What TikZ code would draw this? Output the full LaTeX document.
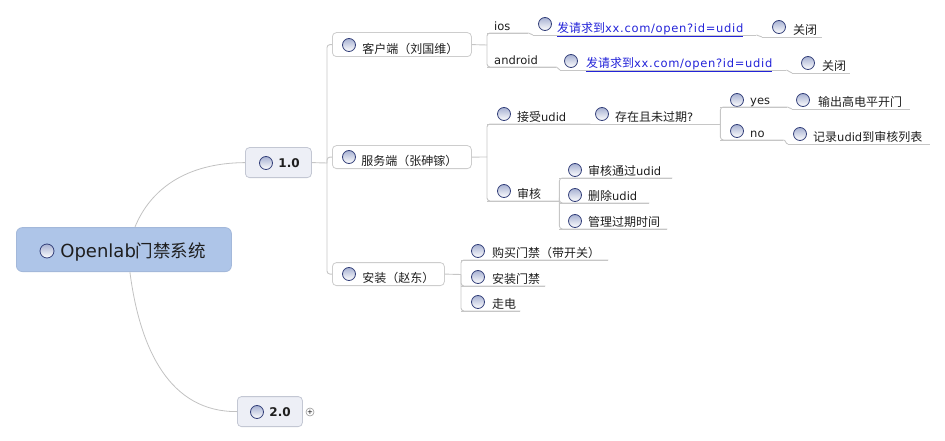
\documentclass[tikz,border=0pt]{standalone}
\usepackage{fontspec}
\setmainfont{DejaVu Sans}
\newfontfamily\zhfont{Noto Sans CJK SC}
\usetikzlibrary{calc}
\newcommand\zh[1]{{\zhfont\fontsize{12}{14}\selectfont #1}}
\newcommand\zhbig[1]{{\zhfont\fontsize{17.5}{20}\selectfont #1}}
\newcommand\linktext[1]{{\addfontfeature{LetterSpace=6}#1}}
\definecolor{lineC}{HTML}{C6C6C6}
\definecolor{curveC}{HTML}{C2C2C2}
\definecolor{rootFill}{HTML}{AEC5E8}
\definecolor{rootDraw}{HTML}{A3B8DA}
\definecolor{verFill}{HTML}{EDEFF6}
\definecolor{verDraw}{HTML}{C3C7D3}
\definecolor{subDraw}{HTML}{CDCDCD}
\definecolor{ballDraw}{HTML}{34407A}
\definecolor{ballTop}{HTML}{A7B1D2}
\definecolor{txt}{HTML}{1E1E1E}
\definecolor{linkC}{HTML}{2323D8}
\begin{document}
\begin{tikzpicture}[x=1pt,y=-1pt,
 ln/.style={draw=lineC, line width=0.9pt},
 rc/.style={ln, rounded corners=3pt},
 curveln/.style={draw=curveC, line width=0.8pt},
 ball/.style={circle, draw=ballDraw, line width=0.8pt, top color=ballTop, bottom color=white, minimum size=13pt, inner sep=0pt},
 topic/.style={anchor=south west, inner xsep=0pt, inner ysep=2.5pt, text depth=0pt, text height=9pt, align=left, font=\fontsize{11.5}{13}\selectfont, text=txt},
 subbox/.style={draw=subDraw, fill=white, line width=0.8pt, rounded corners=4pt, anchor=south west, inner xsep=0pt, inner ysep=0pt, align=left, font=\fontsize{11.5}{13}\selectfont, text=txt},
 verbox/.style={draw=verDraw, fill=verFill, line width=0.8pt, rounded corners=4pt, anchor=south west, inner xsep=0pt, inner ysep=0pt, align=left, font=\bfseries\fontsize{12}{14}\selectfont, text=txt},
 rootbox/.style={draw=rootDraw, fill=rootFill, line width=0.8pt, rounded corners=6pt, anchor=south west, inner xsep=0pt, inner ysep=0pt, align=left, font=\fontsize{18}{20}\selectfont, text=txt},
 plusc/.style={circle, draw=gray!80, line width=0.6pt, minimum size=8pt, inner sep=0pt, font=\fontsize{7}{7}\selectfont},
]
\useasboundingbox (0,0) rectangle (945,441);

% ---- boxes ----
\node[rootbox, text width=215pt, text height=30pt, text depth=14pt] (root) at (16,272) {\hspace*{44pt}Openlab\zhbig{门禁系统}};
\node[ball, minimum size=14pt] (root-b) at (47,251) {};

\node[verbox, text width=66pt, text height=20pt, text depth=10pt] (v1) at (245,178) {\hspace*{33pt}1.0};
\node[ball] (v1-b) at (266,163) {};
\node[verbox, text width=65pt, text height=20pt, text depth=10pt] (v2) at (237,427) {\hspace*{32pt}2.0};
\node[ball] (v2-b) at (257,412) {};
\node[plusc] (v2p) at (310,412) {+};

\node[subbox, text width=139pt, text height=21pt, text depth=3pt] (kehu) at (332,57) {\hspace*{30pt}\zh{客户端（刘国维）}};
\node[ball] (kehu-b) at (349,45) {};
\node[subbox, text width=139pt, text height=20pt, text depth=3pt] (fuwu) at (332,169) {\hspace*{29pt}\zh{服务端（张砷镓）}};
\node[ball] (fuwu-b) at (349,157) {};
\node[subbox, text width=112pt, text height=20pt, text depth=3pt] (anz) at (332,286) {\hspace*{30pt}\zh{安装（赵东）}};
\node[ball] (anz-b) at (349,274) {};

% ---- underline topics ----
\node[topic, text width=41pt] (ios) at (487,33) {\hspace*{7pt}ios};
\node[topic, text width=223pt] (link1) at (533,35) {\hspace*{24pt}\textcolor{linkC}{\underline{\zh{发请求到}\linktext{xx.com/open?id=udid}}}};
\node[ball] (link1-b) at (545,24) {};
\node[topic, text width=60pt] (close1) at (762,37) {\hspace*{31pt}\zh{关闭}};
\node[ball] (close1-b) at (779,27) {};

\node[topic, text width=69pt] (android) at (487,67) {\hspace*{7pt}android};
\node[topic, text width=226pt] (link2) at (560,70) {\hspace*{26pt}\textcolor{linkC}{\underline{\zh{发请求到}\linktext{xx.com/open?id=udid}}}};
\node[ball] (link2-b) at (571,61) {};
\node[topic, text width=58pt] (close2) at (792,73) {\hspace*{30pt}\zh{关闭}};
\node[ball] (close2-b) at (808,63) {};

\node[topic, text width=103pt] (accept) at (487,124) {\hspace*{30pt}\zh{接受}udid};
\node[ball] (accept-b) at (504,114) {};
\node[topic, text width=128pt] (exists) at (592,124) {\hspace*{23pt}\zh{存在且未过期}?};
\node[ball] (exists-b) at (602,114) {};
\node[topic, text width=67pt] (yes) at (720,107) {\hspace*{30pt}yes};
\node[ball] (yes-b) at (737,100) {};
\node[topic, text width=118pt] (out) at (792,109) {\hspace*{26pt}\zh{输出高电平开门}};
\node[ball] (out-b) at (803,100) {};
\node[topic, text width=63pt] (no) at (720,140) {\hspace*{30pt}no};
\node[ball] (no-b) at (737,131) {};
\node[topic, text width=142pt] (record) at (788,144) {\hspace*{25pt}\zh{记录}udid\zh{到审核列表}};
\node[ball] (record-b) at (800,134) {};

\node[topic, text width=72pt] (audit) at (487,201) {\hspace*{30pt}\zh{审核}};
\node[ball] (audit-b) at (504,191) {};
\node[topic, text width=113pt] (pass) at (559,178) {\hspace*{29pt}\zh{审核通过}udid};
\node[ball] (pass-b) at (575,170) {};
\node[topic, text width=90pt] (del) at (559,203) {\hspace*{29pt}\zh{删除}udid};
\node[ball] (del-b) at (575,195) {};
\node[topic, text width=108pt] (manage) at (559,229) {\hspace*{29pt}\zh{管理过期时间}};
\node[ball] (manage-b) at (575,221) {};

\node[topic, text width=147pt] (buy) at (461,260) {\hspace*{31pt}\zh{购买门禁（带开关）}};
\node[ball] (buy-b) at (478,251) {};
\node[topic, text width=84pt] (install) at (461,286) {\hspace*{31pt}\zh{安装门禁}};
\node[ball] (install-b) at (478,277) {};
\node[topic, text width=59pt] (wire) at (461,311) {\hspace*{31pt}\zh{走电}};
\node[ball] (wire-b) at (478,302) {};

% underlines
\foreach \n in {ios,link1,close1,android,link2,close2,accept,exists,yes,out,no,record,audit,pass,del,manage,buy,install,wire}
  \draw[ln] (\n.south west) -- (\n.south east);

% ---- connectors ----
\draw[curveln] ([xshift=11pt]root.north) .. controls (150,190) and (185,163) .. (v1.west);
\draw[curveln] ([xshift=6pt]root.south) .. controls (140,350) and (170,412) .. (v2.west);

\coordinate (j0) at (327,163);
\draw[ln] (v1.east) -- (j0);
\draw[rc] (j0) |- (kehu.west);
\draw[rc] (j0) |- (fuwu.west);
\draw[rc] (j0) |- (anz.west);

\coordinate (j1) at (487,45);
\draw[ln] (kehu.east) -- (j1);
\draw[rc] (j1) |- (ios.south east);
\draw[rc] (j1) |- (android.south east);
\draw[ln] (ios.south east) to[out=0,in=180] (link1.south west);
\draw[ln] (link1.south east) to[out=0,in=180] (close1.south west);
\draw[ln] (android.south east) to[out=0,in=180] (link2.south west);
\draw[ln] (link2.south east) to[out=0,in=180] (close2.south west);

\coordinate (j2) at (487,157);
\draw[ln] (fuwu.east) -- (j2);
\draw[rc] (j2) |- (accept.south east);
\draw[rc] (j2) |- (audit.south east);
\draw[ln] (accept.south east) -- (exists.south west);
\draw[rc] (exists.south east) |- (yes.south east);
\draw[rc] (exists.south east) |- (no.south east);
\draw[ln] (yes.south east) to[out=0,in=180] (out.south west);
\draw[ln] (no.south east) to[out=0,in=180] (record.south west);
\draw[rc] (audit.south east) |- (pass.south east);
\draw[rc] (audit.south east) |- (del.south east);
\draw[rc] (audit.south east) |- (manage.south east);

\coordinate (j5) at (461,274.5);
\draw[ln] (anz.east) -- (j5);
\draw[rc] (j5) |- (buy.south east);
\draw[rc] (j5) |- (install.south east);
\draw[rc] (j5) |- (wire.south east);
\end{tikzpicture}
\end{document}
